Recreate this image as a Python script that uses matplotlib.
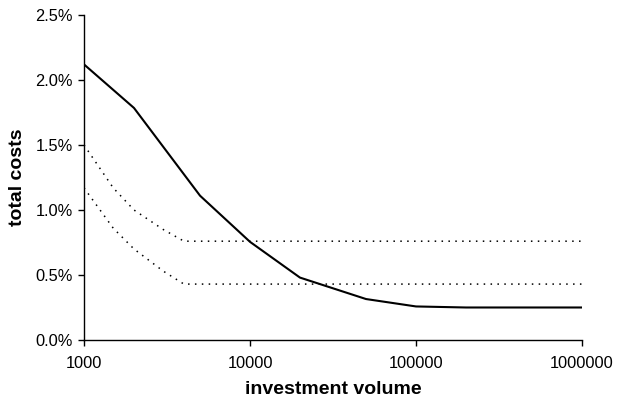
import numpy as np
import matplotlib.pyplot as plt
from matplotlib.ticker import FuncFormatter, FixedLocator, NullLocator

plt.rcParams['font.family'] = ['Liberation Sans', 'DejaVu Sans']

# total costs of the direct investment, by volume
volume_solid = [1000, 2000, 5000, 10000, 20000, 50000, 100000, 200000, 500000, 1000000]
costs_solid = [2.12, 1.785, 1.11, 0.755, 0.48, 0.315, 0.258, 0.25, 0.25, 0.25]

# the two fund alternatives (dotted)
volume_dotted = [1000, 1500, 2000, 3000, 4000, 10000, 100000, 1000000]
costs_upper = [1.50, 1.17, 1.00, 0.85, 0.76, 0.76, 0.76, 0.76]
costs_lower = [1.17, 0.86, 0.70, 0.53, 0.43, 0.43, 0.43, 0.43]

x_ticks = [1000, 10000, 100000, 1000000]
y_ticks = [0.0, 0.5, 1.0, 1.5, 2.0, 2.5]

fig = plt.figure(figsize=(6.2, 3.99), dpi=100)
ax = fig.add_axes([0.1355, 0.1479, 0.8032, 0.8145])

ax.plot(volume_solid, costs_solid, color='black', lw=1.5, solid_joinstyle='round')
ax.plot(volume_dotted, costs_upper, color='black', lw=1.1, linestyle=(0, (1, 3.5)))
ax.plot(volume_dotted, costs_lower, color='black', lw=1.1, linestyle=(0, (1, 3.5)))

ax.set_xscale('log')
ax.set_xlim(1000, 1000000)
ax.set_ylim(0, 2.5)
ax.xaxis.set_major_locator(FixedLocator(x_ticks))
ax.xaxis.set_minor_locator(NullLocator())
ax.xaxis.set_major_formatter(FuncFormatter(lambda v, p: '%d' % v))
ax.set_yticks(y_ticks)
ax.yaxis.set_major_formatter(FuncFormatter(lambda v, p: '%.1f%%' % v))

for side in ['top', 'right']:
    ax.spines[side].set_visible(False)
for side in ['left', 'bottom']:
    ax.spines[side].set_linewidth(1.0)

ax.tick_params(axis='both', direction='out', length=4, width=1, labelsize=11.8, colors='black')
ax.tick_params(axis='x', pad=7.5)
ax.tick_params(axis='y', pad=4)

ax.set_xlabel('investment volume', fontsize=14, fontweight='bold', labelpad=7)
ax.set_ylabel('total costs', fontsize=14, fontweight='bold', labelpad=7)

fig.savefig('out.png', dpi=100)
